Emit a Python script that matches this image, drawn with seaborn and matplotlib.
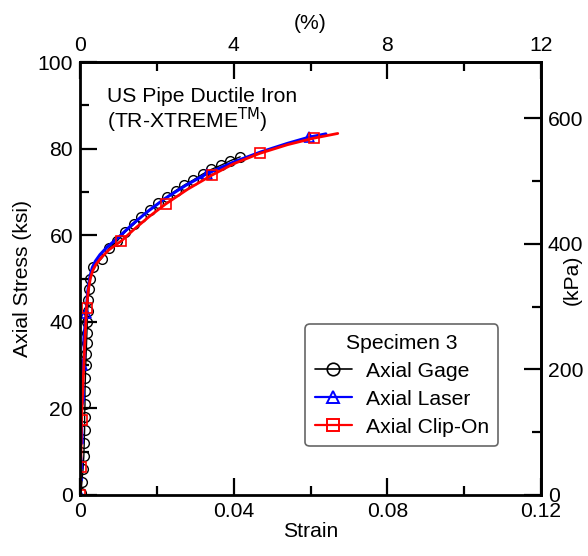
import numpy as np
import pandas as pd
import matplotlib
matplotlib.use("Agg")
import matplotlib.pyplot as plt
from matplotlib.lines import Line2D
from matplotlib.ticker import FixedLocator, FixedFormatter
import seaborn as sns

# Axial gage readings (strain, ksi)
gage_strain = [0.0002, 0.0005, 0.0008, 0.0010, 0.0011, 0.0012, 0.0012, 0.0013, 0.0013, 0.0014,
               0.0015, 0.0016, 0.0017, 0.0018, 0.0019, 0.0020, 0.0021, 0.0023, 0.0026, 0.0033,
               0.0056, 0.0076, 0.0097, 0.0118, 0.0140, 0.0160, 0.0182, 0.0204, 0.0227, 0.0249,
               0.0272, 0.0294, 0.0319, 0.0342, 0.0368, 0.0391, 0.0417]
gage_stress = [0.5, 3.0, 6.0, 9.0, 12.0, 15.0, 18.0, 21.0, 24.0, 27.0,
               30.0, 32.5, 35.0, 37.5, 40.0, 42.5, 45.0, 47.5, 50.0, 52.6,
               54.6, 57.0, 58.7, 60.8, 62.5, 64.3, 65.8, 67.4, 68.9, 70.3,
               71.6, 72.7, 74.1, 75.2, 76.2, 77.2, 78.1]

# Axial laser readings
laser_strain = [0.0000, -0.0026, 0.0004, -0.0008, 0.0005, -0.0002, 0.0006, 0.0002, 0.0009, 0.0005,
                0.0012, 0.0010, 0.0016, 0.0020, 0.0026, 0.0032, 0.0040, 0.0052, 0.0070, 0.0100,
                0.0135, 0.0175, 0.0220, 0.0275, 0.0330, 0.0400, 0.0470, 0.0540, 0.0595, 0.0640]
laser_stress = [0.0, 3.5, 3.5, 6.5, 6.2, 12.0, 12.0, 20.0, 22.0, 30.0,
                32.0, 36.0, 42.0, 47.0, 50.5, 52.5, 54.0, 55.5, 57.2, 59.5,
                62.4, 65.4, 68.4, 71.5, 74.2, 76.9, 79.2, 81.2, 82.6, 83.4]
laser_marks = [0, 3, 9, 12, 24, 28]

# Axial clip-on extensometer readings
clip_strain = [0.0000, 0.0002, 0.0004, 0.0008, 0.0012, 0.0017, 0.0022, 0.0027, 0.0033, 0.0042,
               0.0055, 0.0075, 0.0108, 0.0140, 0.0180, 0.0223, 0.0280, 0.0344, 0.0400, 0.0468,
               0.0540, 0.0608, 0.0671]
clip_stress = [0.0, 6.5, 17.3, 26.0, 34.0, 43.2, 47.5, 50.0, 51.8, 53.3,
               54.8, 56.6, 58.7, 61.3, 64.3, 67.2, 70.6, 73.9, 76.5, 78.9,
               80.9, 82.4, 83.5]
clip_marks = [0, 1, 2, 5, 12, 15, 17, 19, 21]

x_ticks = [0, 0.04, 0.08, 0.12]
x_tick_labels = ["0", "0.04", "0.08", "0.12"]
y_ticks = [0, 20, 40, 60, 80, 100]
pct_ticks = [0, 4, 8, 12]
kpa_ticks = [0, 200, 400, 600]

KSI_TO_KPA = 6.894757

sns.set_theme(style="white")
plt.rcParams["font.family"] = ["Liberation Sans", "DejaVu Sans"]
plt.rcParams.update({"text.color": "black", "axes.labelcolor": "black",
                     "xtick.color": "black", "ytick.color": "black"})
FS = 15.2

fig = plt.figure(figsize=(5.88, 5.56), dpi=100)
ax = fig.add_axes([80 / 588, 61 / 556, 461 / 588, 433 / 556])

gage = pd.DataFrame({"strain": gage_strain, "stress": gage_stress})
laser = pd.DataFrame({"strain": laser_strain, "stress": laser_stress})
clip = pd.DataFrame({"strain": clip_strain, "stress": clip_stress})

sns.lineplot(data=gage, x="strain", y="stress", sort=False, estimator=None, ax=ax,
             color="black", lw=1.0, marker="o", ms=7, mfc="none", mec="black", mew=1.0)
sns.lineplot(data=laser, x="strain", y="stress", sort=False, estimator=None, ax=ax,
             color="#0000ff", lw=2.2, marker="^", ms=7.5, mfc="none", mec="#0000ff", mew=1.2,
             markevery=laser_marks)
sns.lineplot(data=clip, x="strain", y="stress", sort=False, estimator=None, ax=ax,
             color="#ff0000", lw=2.0, marker="s", ms=7.5, mfc="none", mec="#ff0000", mew=1.2,
             markevery=clip_marks)

ax.set_xlim(0, 0.12)
ax.set_ylim(0, 100)
ax.set_xlabel("Strain", fontsize=FS, labelpad=1)
ax.set_ylabel("Axial Stress (ksi)", fontsize=FS, labelpad=4)
ax.xaxis.set_major_locator(FixedLocator(x_ticks))
ax.xaxis.set_major_formatter(FixedFormatter(x_tick_labels))
ax.xaxis.set_minor_locator(FixedLocator([0.02, 0.06, 0.10]))
ax.yaxis.set_major_locator(FixedLocator(y_ticks))
ax.yaxis.set_minor_locator(FixedLocator([10, 30, 50, 70, 90]))

for s in ax.spines.values():
    s.set_visible(True)
    s.set_color("black")
    s.set_linewidth(2.0)

tick_kw = dict(direction="in", color="black", labelsize=FS, labelcolor="black")
ax.tick_params(which="major", length=12, width=1.6, pad=5, **tick_kw)
ax.tick_params(which="minor", length=6.5, width=1.6, **tick_kw)
ax.tick_params(axis="x", which="both", bottom=True, top=False)
ax.tick_params(axis="y", which="both", left=True, right=False)

# Percent strain along the top
top = ax.secondary_xaxis("top", functions=(lambda x: x * 100, lambda x: x / 100))
top.xaxis.set_major_locator(FixedLocator(pct_ticks))
top.xaxis.set_minor_locator(FixedLocator([2, 6, 10]))
top.tick_params(which="major", length=12, width=1.6, pad=5, **tick_kw)
top.tick_params(which="minor", length=6.5, width=1.6, **tick_kw)
top.set_xlabel("(%)", fontsize=FS, labelpad=5)
top.spines["top"].set_linewidth(2.0)

# Stress in kPa on the right
right = ax.secondary_yaxis("right", functions=(lambda y: y * KSI_TO_KPA, lambda y: y / KSI_TO_KPA))
right.yaxis.set_major_locator(FixedLocator(kpa_ticks))
right.yaxis.set_minor_locator(FixedLocator([100, 300, 500]))
right.tick_params(which="major", length=12, width=1.6, pad=5, **tick_kw)
right.tick_params(which="minor", length=6.5, width=1.6, **tick_kw)
right.spines["right"].set_linewidth(2.0)
fig.text(572 / 588, 1 - 280 / 556, "(kPa)", rotation=90, fontsize=FS,
         ha="center", va="center")

ax.text(0.058, 0.921, "US Pipe Ductile Iron", transform=ax.transAxes,
        fontsize=FS, va="center", ha="left")
ax.text(0.058, 0.866, r"(TR-XTREME$^{\mathrm{TM}}$)", transform=ax.transAxes,
        fontsize=FS, va="center", ha="left")

handles = [
    Line2D([], [], color="black", lw=1.2, marker="o", ms=9, mfc="none", mec="black", mew=1.2),
    Line2D([], [], color="#0000ff", lw=1.6, marker="^", ms=9, mfc="none", mec="#0000ff", mew=1.4),
    Line2D([], [], color="#ff0000", lw=1.6, marker="s", ms=9, mfc="none", mec="#ff0000", mew=1.4),
]
labels = ["Axial Gage", "Axial Laser", "Axial Clip-On"]
leg = ax.legend(handles, labels, title="Specimen 3", loc="lower right",
                bbox_to_anchor=(0.907, 0.113), fontsize=FS, title_fontsize=FS,
                frameon=True, fancybox=True, edgecolor="#666666", framealpha=1,
                handlelength=1.75, handletextpad=0.65, labelspacing=0.42, borderpad=0.45,
                borderaxespad=0)
leg.get_frame().set_linewidth(1.2)

fig.savefig("out.png", dpi=100)
